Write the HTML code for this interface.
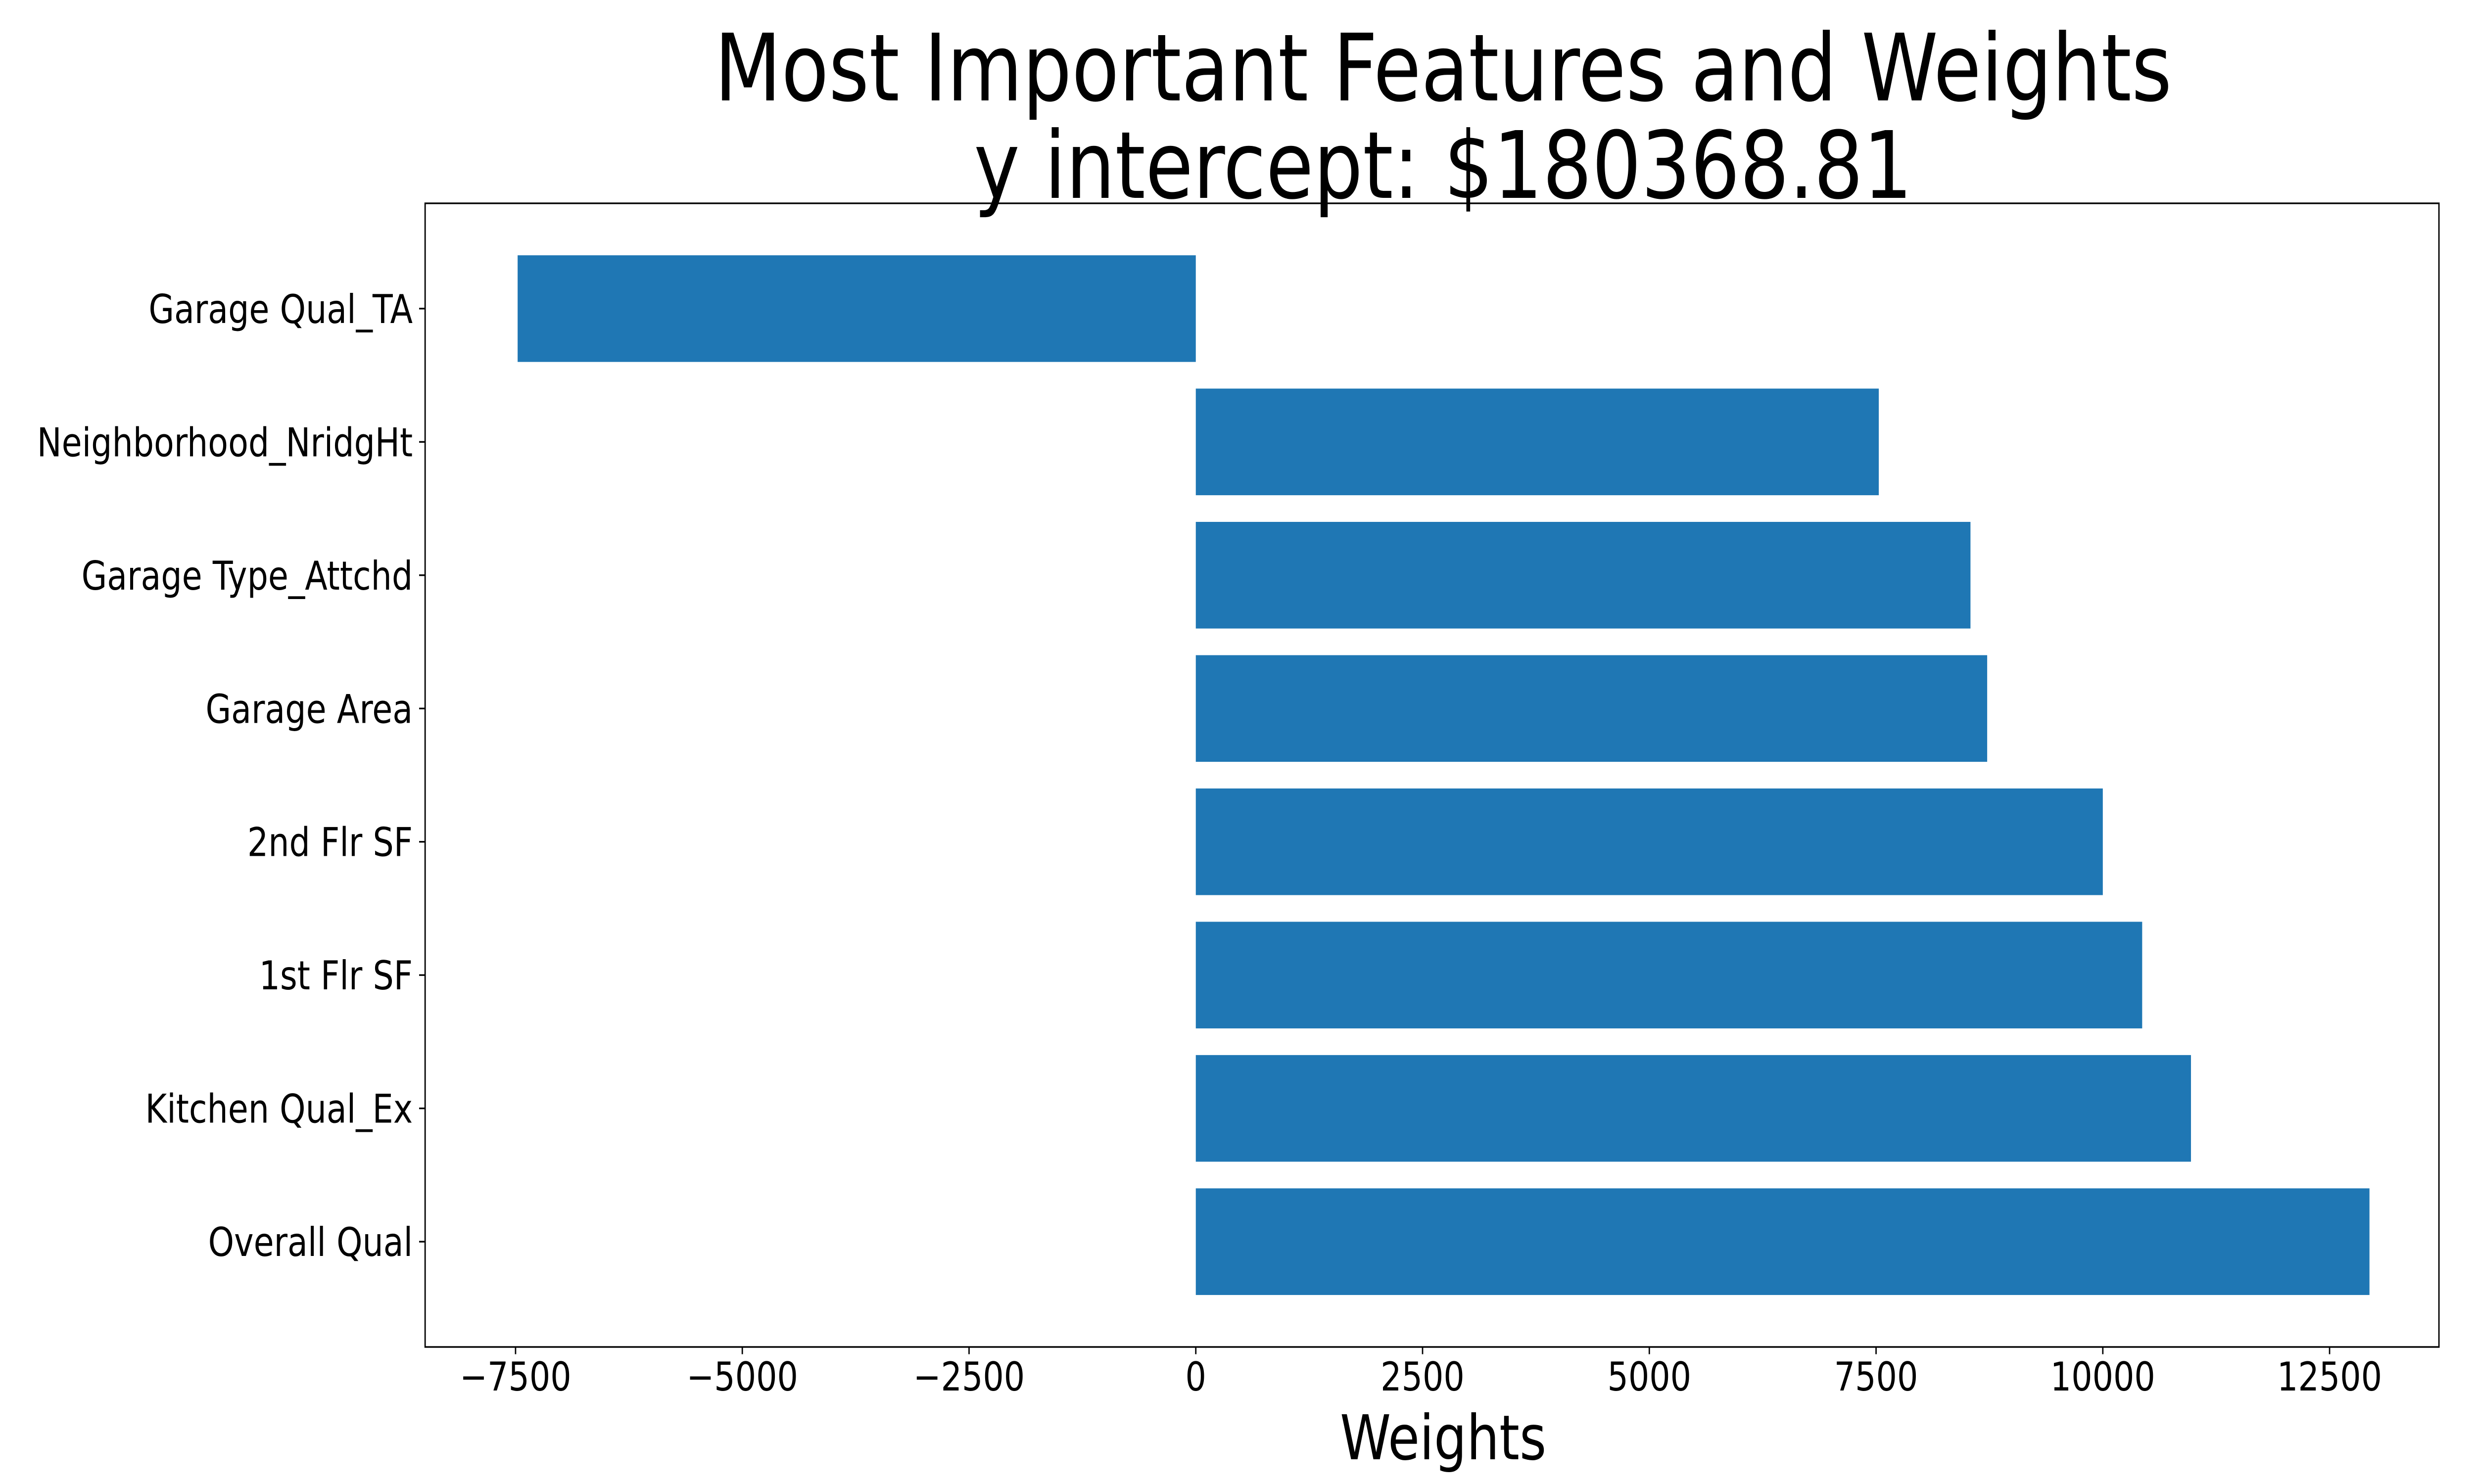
<!DOCTYPE html>
<html><head><meta charset="utf-8"><style>
html,body{margin:0;padding:0;background:#fff;width:100%;height:100%;overflow:hidden;}
svg{display:block;width:100vw;height:100vh;font-family:"DejaVu Sans","Liberation Sans",sans-serif;}
</style></head><body>
<svg id="chart" viewBox="0 0 6000 3000" preserveAspectRatio="none">
<rect width="6000" height="3000" fill="#fff"/>
<text x="3500" y="203" font-size="188" text-anchor="middle">Most Important Features and Weights</text>
<text x="3500" y="400" font-size="188" text-anchor="middle">y intercept: $180368.81</text>
<g id="bars"></g>
<g id="xticks"></g>
<g id="yticks"></g>
<rect x="1031" y="411" width="4884" height="2312" fill="none" stroke="#000" stroke-width="3.3"/>
<text x="3500" y="2950" font-size="125" text-anchor="middle">Weights</text>
</svg>
<script>
const categories = ["Overall Qual","Kitchen Qual_Ex","1st Flr SF","2nd Flr SF","Garage Area","Garage Type_Attchd","Neighborhood_NridgHt","Garage Qual_TA"];
const weights = [12940, 10972, 10434, 10000, 8725, 8541, 7530, -7477];
const xTickValues = [-7500,-5000,-2500,0,2500,5000,7500,10000,12500];
const xTickLabels = ["\u22127500","\u22125000","\u22122500","0","2500","5000","7500","10000","12500"];

const L=1031,R=5915,T=411,B=2723;
const xMin=-8497,xMax=13706;
const yMin=-0.79,yMax=categories.length-1+0.79;
const xs=v=>L+(v-xMin)/(xMax-xMin)*(R-L);
const ys=v=>B-(v-yMin)/(yMax-yMin)*(B-T);
const NS="http://www.w3.org/2000/svg";
const bars=document.getElementById('bars'),xt=document.getElementById('xticks'),yt=document.getElementById('yticks');
const bh=(ys(0)-ys(0.8));
weights.forEach((w,i)=>{
  const r=document.createElementNS(NS,'rect');
  const x0=xs(Math.min(0,w)),x1=xs(Math.max(0,w));
  r.setAttribute('x',x0);r.setAttribute('width',x1-x0);
  r.setAttribute('y',ys(i)-bh/2);r.setAttribute('height',bh);
  r.setAttribute('fill','#1f77b4');
  
  
  bars.appendChild(r);
});
categories.forEach((c,i)=>{
  const y=ys(i);
  const l=document.createElementNS(NS,'line');
  l.setAttribute('x1',L-14.6);l.setAttribute('x2',L);l.setAttribute('y1',y);l.setAttribute('y2',y);
  l.setAttribute('stroke','#000');l.setAttribute('stroke-width','3.3');
  
  
  yt.appendChild(l);
  const t=document.createElementNS(NS,'text');
  t.setAttribute('x',L-30);t.setAttribute('y',y+29);t.setAttribute('font-size','80');t.setAttribute('text-anchor','end');
  t.textContent=c;
  
  
  yt.appendChild(t);
});
xTickValues.forEach((v,i)=>{
  const x=xs(v);
  const l=document.createElementNS(NS,'line');
  l.setAttribute('x1',x);l.setAttribute('x2',x);l.setAttribute('y1',B);l.setAttribute('y2',B+14.6);
  l.setAttribute('stroke','#000');l.setAttribute('stroke-width','3.3');
  
  
  xt.appendChild(l);
  const t=document.createElementNS(NS,'text');
  t.setAttribute('x',x);t.setAttribute('y',2811);t.setAttribute('font-size','80');t.setAttribute('text-anchor','middle');
  t.textContent=xTickLabels[i];
  
  
  xt.appendChild(t);
});
</script>
</body></html>
